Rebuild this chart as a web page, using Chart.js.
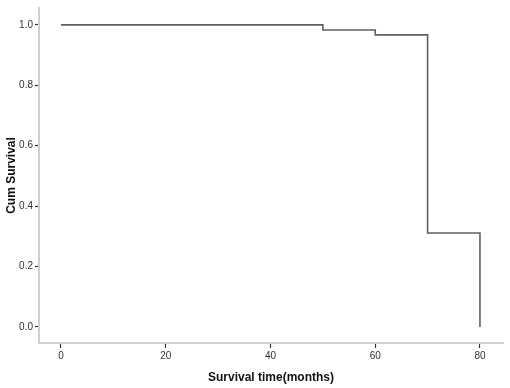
<!DOCTYPE html>
<html><head><meta charset="utf-8">
<script src="https://cdn.jsdelivr.net/npm/chart.js@4/dist/chart.umd.min.js"></script>
<style>html,body{margin:0;padding:0;background:#fff}#w{width:510px;height:388px}</style>
</head><body><div id="w"><canvas id="c"></canvas></div>
<script>
const times = [0, 50, 60, 70, 80];
const survival = [1.0, 0.983, 0.967, 0.311, 0.0];
const xTicks = [0, 20, 40, 60, 80];
const yTicks = [0.0, 0.2, 0.4, 0.6, 0.8, 1.0];

const pts = times.map((t, i) => ({x: t, y: survival[i]}));
new Chart(document.getElementById('c'), {
  type: 'line',
  data: {datasets: [{data: pts, stepped: true, borderColor: '#606060', borderWidth: 1.6, pointRadius: 0, fill: false}]},
  options: {
    responsive: true, maintainAspectRatio: false, animation: false,
    layout: {padding: {top: 6, right: 7, left: 0, bottom: 0}},
    plugins: {legend: {display: false}, tooltip: {enabled: false}},
    scales: {
      x: {
        type: 'linear', min: -4.2, max: 84.4,
        afterBuildTicks: s => { s.ticks = xTicks.map(v => ({value: v})); },
        afterFit: s => { s.height = 45; },
        border: {color: '#cfcfcf', width: 2},
        grid: {drawOnChartArea: false, tickLength: 5, tickColor: '#333', tickWidth: 1.2},
        ticks: {color: '#333', font: {family: 'Liberation Sans, Arial', size: 10}, padding: 2, maxRotation: 0},
        title: {display: true, text: 'Survival time(months)', color: '#111', font: {family: 'Liberation Sans, Arial', size: 12, weight: 'bold'}, padding: {top: 6, bottom: 3}}
      },
      y: {
        type: 'linear', min: -0.053, max: 1.056,
        afterBuildTicks: s => { s.ticks = yTicks.map(v => ({value: v})); },
        afterFit: s => { s.width = 39; },
        border: {color: '#cfcfcf', width: 2},
        grid: {drawOnChartArea: false, tickLength: 4, tickColor: '#333', tickWidth: 1.2},
        ticks: {color: '#333', font: {family: 'Liberation Sans, Arial', size: 10}, padding: 2, callback: v => Number(v).toFixed(1)},
        title: {display: true, text: 'Cum Survival', color: '#111', font: {family: 'Liberation Sans, Arial', size: 12, weight: 'bold'}, padding: {top: 4, bottom: 4}}
      }
    }
  }
});
</script></body></html>
